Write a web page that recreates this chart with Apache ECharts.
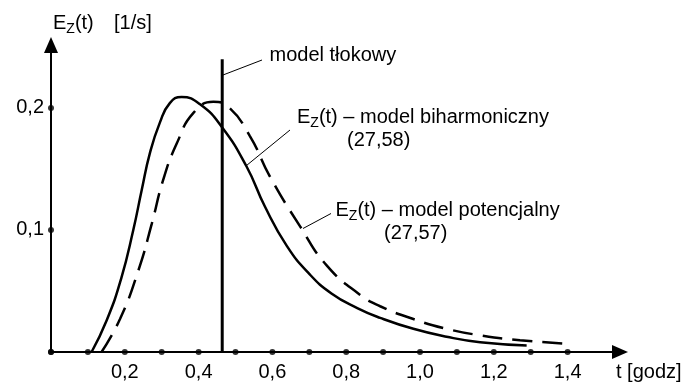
<!DOCTYPE html>
<html><head><meta charset="utf-8">
<script src="https://cdn.jsdelivr.net/npm/echarts@6/dist/echarts.min.js"></script>
<style>html,body{margin:0;padding:0;background:#fff}#c{width:690px;height:383px}</style>
</head><body><div id="c"></div>
<script>
const FONT = '"Liberation Sans", Arial, Helvetica, sans-serif';

// E_Z(t) – model biharmoniczny (solid)
const biharmT = [0.110, 0.151, 0.190, 0.223, 0.246, 0.268, 0.295, 0.322, 0.354, 0.404, 0.464, 0.530, 0.580, 0.639, 0.700, 0.760, 0.830, 0.892, 0.982, 1.072, 1.163, 1.289];
const biharmE = [0.000, 0.026, 0.060, 0.100, 0.133, 0.163, 0.188, 0.204, 0.209, 0.203, 0.184, 0.152, 0.119, 0.087, 0.064, 0.048, 0.036, 0.028, 0.019, 0.0125, 0.0080, 0.0054];
// E_Z(t) – model potencjalny (dashed)
const potT = [0.137, 0.187, 0.237, 0.273, 0.304, 0.341, 0.386, 0.440, 0.480, 0.539, 0.593, 0.675, 0.747, 0.837, 0.892, 0.982, 1.072, 1.163, 1.271, 1.397];
const potE = [0.000, 0.027, 0.067, 0.105, 0.141, 0.171, 0.196, 0.205, 0.201, 0.177, 0.144, 0.103, 0.071, 0.047, 0.0375, 0.027, 0.019, 0.0137, 0.0097, 0.0068];
// model tłokowy (vertical line)
const pistonT = [0.464, 0.464];
const pistonE = [0, 0.240];

const xDotTicks = [0, 0.1, 0.2, 0.3, 0.4, 0.5, 0.6, 0.7, 0.8, 0.9, 1.0, 1.1, 1.2, 1.3, 1.4];
const yDotTicks = [0, 0.1, 0.2];
const xLabelValues = [0.2, 0.4, 0.6, 0.8, 1.0, 1.2, 1.4];
const xLabelTexts = ['0,2', '0,4', '0,6', '0,8', '1,0', '1,2', '1,4'];
const yLabelValues = [0.1, 0.2];
const yLabelTexts = ['0,1', '0,2'];

const X_MAX = 1.542, Y_MAX = 0.2516;

const zip = (a, b) => a.map((v, i) => [v, b[i]]);
function lookup(vals, texts, v) {
  for (let i = 0; i < vals.length; i++) if (Math.abs(vals[i] - v) < 1e-6) return texts[i];
  return '';
}

const cv = document.createElement('canvas').getContext('2d');
function tw(txt, fs) { cv.font = fs + 'px ' + FONT; return cv.measureText(txt).width; }
function T(x, y, text, fs) {
  return { type: 'text', x: x, y: y, style: { text: text, fontSize: fs, fontFamily: FONT, fill: '#000', align: 'left', verticalAlign: 'middle' } };
}
function subLabel(x, y, before, sub, after, fs, sfs, dy) {
  const a = tw(before, fs), b = tw(sub, sfs);
  return [T(x, y, before, fs), T(x + a, y + dy, sub, sfs), T(x + a + b, y, after, fs)];
}
function L(x1, y1, x2, y2) {
  return { type: 'line', shape: { x1, y1, x2, y2 }, style: { stroke: '#000', lineWidth: 1 } };
}

const FS = 20, SFS = 14, DY = 6;
const graphics = [].concat(
  subLabel(53, 23.5, 'E', 'Z', '(t)', FS, SFS, DY),
  [T(114, 23.5, '[1/s]', FS)],
  [T(269.5, 55.5, 'model tłokowy', FS), L(223, 75, 262, 60)],
  subLabel(297, 117, 'E', 'Z', '(t) – model biharmoniczny', FS, SFS, DY),
  [T(347, 140, '(27,58)', FS), L(290, 130, 246.5, 165.5)],
  subLabel(335.5, 210, 'E', 'Z', '(t) – model potencjalny', FS, SFS, DY),
  [T(384, 233, '(27,57)', FS), L(331, 213.5, 303, 228.5)],
  [T(616, 372, 't [godz]', FS)]
);

const chart = echarts.init(document.getElementById('c'), null, { renderer: 'canvas' });
chart.setOption({
  animation: false,
  backgroundColor: '#fff',
  grid: { left: 51, top: 45, width: 569, height: 307, containLabel: false },
  xAxis: {
    type: 'value', min: 0, max: X_MAX, interval: 0.2,
    axisLine: { show: true, onZero: false, symbol: ['none', 'triangle'], symbolSize: [14, 16], lineStyle: { color: '#000', width: 2 } },
    axisTick: { show: false }, splitLine: { show: false },
    axisLabel: { margin: 10, color: '#000', fontSize: FS, fontFamily: FONT, showMaxLabel: true,
      formatter: v => lookup(xLabelValues, xLabelTexts, v) }
  },
  yAxis: {
    type: 'value', min: 0, max: Y_MAX, interval: 0.1,
    axisLine: { show: true, onZero: false, symbol: ['none', 'triangle'], symbolSize: [14, 16], lineStyle: { color: '#000', width: 2 } },
    axisTick: { show: false }, splitLine: { show: false },
    axisLabel: { margin: 7, color: '#000', fontSize: FS, fontFamily: FONT,
      formatter: v => lookup(yLabelValues, yLabelTexts, v) }
  },
  series: [
    { name: 'biharmoniczny', type: 'line', data: zip(biharmT, biharmE), smooth: 0.5, showSymbol: false,
      lineStyle: { color: '#000', width: 2.5 } },
    { name: 'potencjalny', type: 'line', data: zip(potT, potE), smooth: 0.5, showSymbol: false,
      lineStyle: { color: '#000', width: 2.5, type: [20, 10] } },
    { name: 'tłokowy', type: 'line', data: zip(pistonT, pistonE), showSymbol: false,
      lineStyle: { color: '#000', width: 3 } },
    { name: 'xdots', type: 'scatter', data: xDotTicks.map(v => [v, 0]), symbolSize: 6, itemStyle: { color: '#000' }, z: 5 },
    { name: 'ydots', type: 'scatter', data: yDotTicks.map(v => [0, v]), symbolSize: 6, itemStyle: { color: '#000' }, z: 5 }
  ],
  graphic: graphics
});
</script>
</body></html>
